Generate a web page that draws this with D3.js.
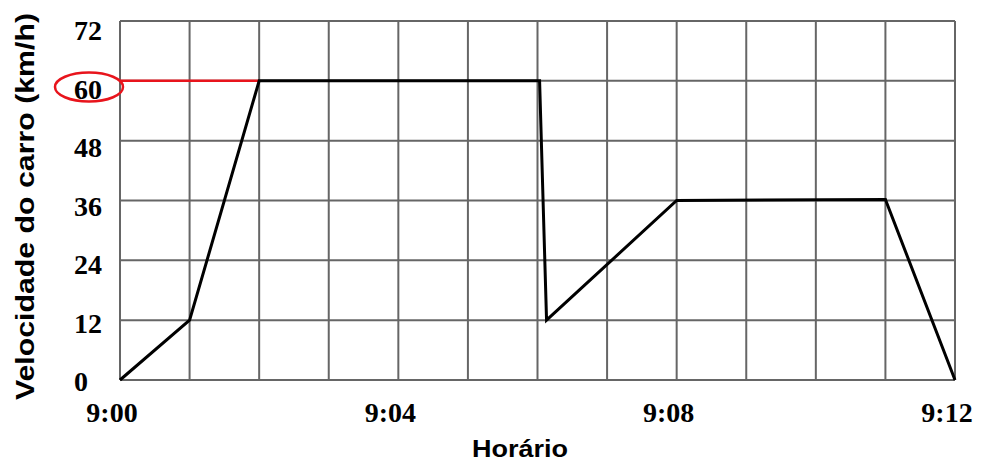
<!DOCTYPE html>
<html><head><meta charset="utf-8">
<script src="https://cdn.jsdelivr.net/npm/d3@7"></script>
<style>body{margin:0;background:#fff}</style>
</head><body>
<svg id="c" width="981" height="461"></svg>
<script>
// data (minutes after 9:00, speed km/h)
const minutes = [0, 1, 2, 6.03, 6.13, 8, 11, 12];
const speeds  = [0, 12, 60, 60, 12, 36, 36.2, 0];
const yTicks = [0, 12, 24, 36, 48, 60, 72];
const xTickMinutes = [0, 4, 8, 12];
const xTickLabels = ["9:00", "9:04", "9:08", "9:12"];
const highlightValue = 60, highlightMinute = 2;

const svg = d3.select("#c");
const L = 120, R = 955, T = 21, B = 380;
const x = d3.scaleLinear().domain([0, 12]).range([L, R]);
const y = d3.scaleLinear().domain([0, 72]).range([B, T]);
const yLab = d3.scaleLinear().domain([0, 72]).range([391, 40]);

const gridColor = "#666";
// vertical grid
svg.append("g").selectAll("line").data(d3.range(0, 13)).join("line")
  .attr("x1", d => x(d)).attr("x2", d => x(d)).attr("y1", T).attr("y2", B)
  .attr("stroke", gridColor).attr("stroke-width", 2);
// horizontal grid
svg.append("g").selectAll("line").data(yTicks).join("line")
  .attr("x1", L).attr("x2", R).attr("y1", d => y(d)).attr("y2", d => y(d))
  .attr("stroke", gridColor).attr("stroke-width", 2);

// red highlight
svg.append("line").attr("x1", x(0)).attr("x2", x(highlightMinute))
  .attr("y1", y(highlightValue)).attr("y2", y(highlightValue))
  .attr("stroke", "#e8141c").attr("stroke-width", 2.5);
svg.append("ellipse").attr("cx", 89).attr("cy", 87).attr("rx", 34).attr("ry", 14.5)
  .attr("fill", "none").attr("stroke", "#e8141c").attr("stroke-width", 2.5);

// data line
svg.append("path").datum(minutes.map((m, i) => [m, speeds[i]]))
  .attr("d", d3.line().x(d => x(d[0])).y(d => y(d[1])))
  .attr("fill", "none").attr("stroke", "#000").attr("stroke-width", 3).attr("stroke-linejoin", "miter");

// y tick labels
svg.append("g").selectAll("text").data(yTicks).join("text")
  .attr("x", 74).attr("y", d => yLab(d))
  .attr("font-family", "Liberation Serif").attr("font-weight", "bold").attr("font-size", 28)
  .text(d => d);

// x tick labels
svg.append("g").selectAll("text").data(xTickMinutes).join("text")
  .attr("x", d => x(d) - 8).attr("y", 422).attr("text-anchor", "middle")
  .attr("font-family", "Liberation Serif").attr("font-weight", "bold").attr("font-size", 28)
  .text((d, i) => xTickLabels[i]);

// axis titles
svg.append("text").attr("x", 472).attr("y", 457)
  .attr("textLength", 96).attr("lengthAdjust", "spacingAndGlyphs")
  .attr("font-family", "Liberation Sans").attr("font-weight", "bold").attr("font-size", 23)
  .text("Horário");
svg.append("text").attr("transform", "translate(34,400) rotate(-90)")
  .attr("textLength", 387).attr("lengthAdjust", "spacingAndGlyphs")
  .attr("font-family", "Liberation Sans").attr("font-weight", "bold").attr("font-size", 25)
  .text("Velocidade do carro (km/h)");
</script>
</body></html>
